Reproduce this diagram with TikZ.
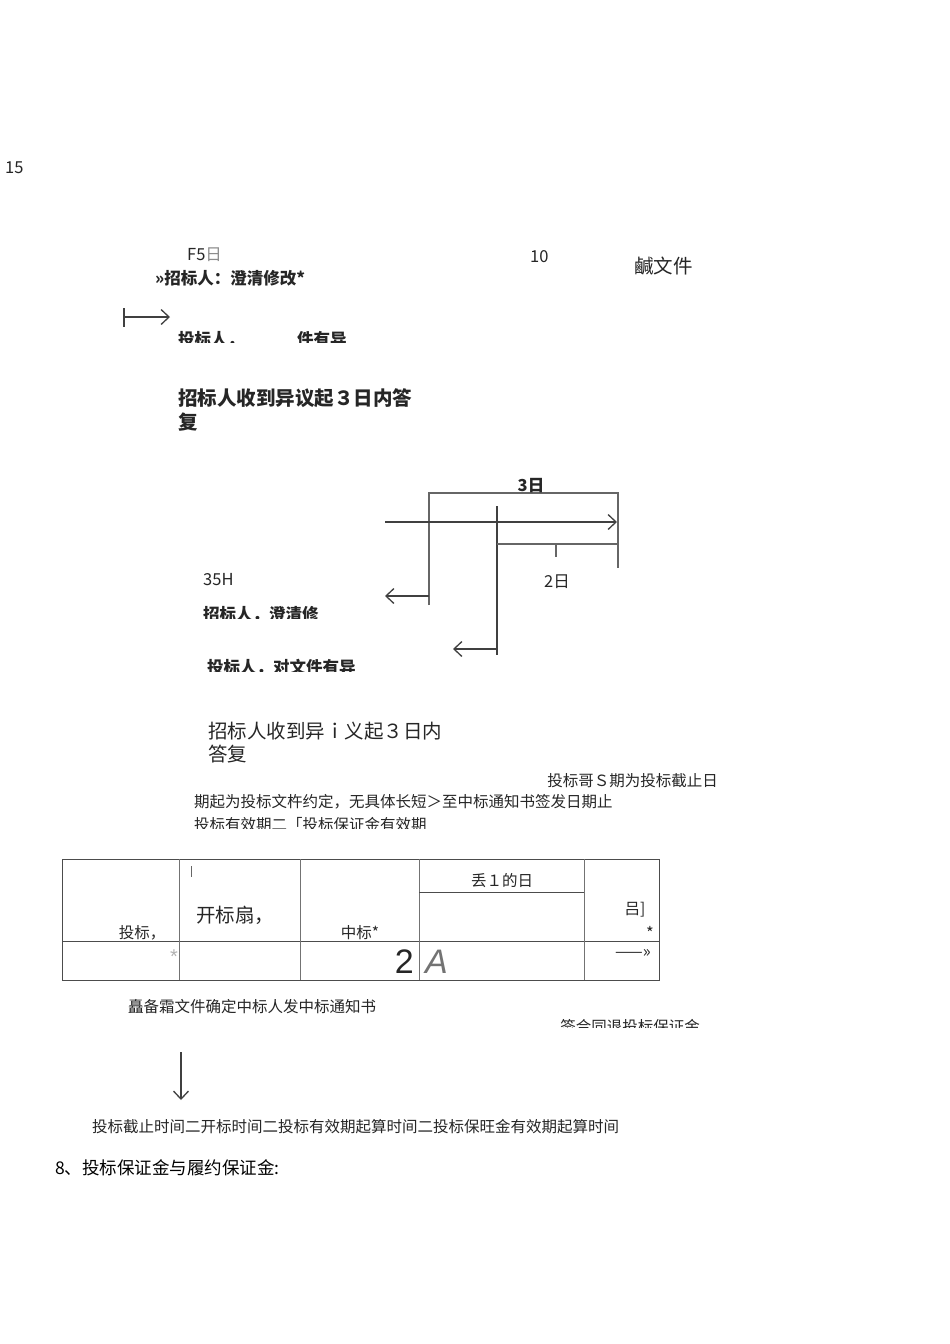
\documentclass[tikz,border=0pt]{standalone}
\usepackage{fontspec}
\setmainfont{Liberation Sans}
\newfontfamily\cjk{Noto Sans CJK SC}
\usetikzlibrary{arrows.meta}
\begin{document}
\begin{tikzpicture}[x=1pt,y=-1pt,
  txt/.style={inner sep=0pt,font=\cjk\fontsize{16.5}{19}\selectfont,text=black!85},
  sm/.style={inner sep=0pt,font=\cjk\fontsize{15.5}{18}\selectfont,text=black!85},
  bsm/.style={inner sep=0pt,font=\cjk\bfseries\fontsize{16.5}{19}\selectfont,text=black!85},
  big/.style={inner sep=0pt,font=\cjk\fontsize{19.5}{23}\selectfont,text=black!85},
  ln/.style={draw=black!75,line width=1.3pt},
  arr/.style={ln,-{Straight Barb[length=8pt,width=15pt]}}]
\useasboundingbox[fill=white] (0,0) rectangle (950,1344);
\node[txt,anchor=west] (n15) at (5,168) {15};
\node[txt,anchor=west] (f5) at (187,255) {F5{\color{black!45}日}};
\node[bsm,anchor=west] (zb1) at (155,278) {»招标人：澄清修改*};
\node[txt,anchor=west] (n10) at (530,257) {10};
\node[big,anchor=west] (wj) at (634,266) {鹹文件};
\coordinate (a0) at (124,317); \coordinate (a1) at (170,317);
\draw[ln] (124,308) -- (124,327);
\draw[arr] (a0) -- (a1);
\begin{scope}\clip (100,320) rectangle (500,342);
\node[bsm,anchor=west] (tb1) at (178,339) {投标人．\hspace{3.2em}件有异};
\end{scope}
\node[big,anchor=west,font=\cjk\bfseries\fontsize{19.5}{23}\selectfont] (sd1) at (178,398) {招标人收到异议起３日内答};
\node[big,anchor=west,font=\cjk\bfseries\fontsize{19.5}{23}\selectfont] (sd1b) at (178,422) {复};
% bracket diagram
\coordinate (b1) at (429,493); \coordinate (b2) at (618,493);
\draw[draw=black!60,line width=1.1pt] (429,605) -- (b1) -- (b2) -- (618,568);
\node[bsm] (d3) at (531,486) {3日};
\coordinate (h0) at (385,522); \coordinate (h1) at (617,522);
\draw[arr] (h0) -- (h1);
\draw[ln] (497,506) -- (497,655);
\draw[draw=black!60,line width=1.1pt] (497,544) -- (618,544);
\draw[draw=black!60,line width=1.1pt] (556,544) -- (556,557);
\begin{scope}\clip (530,570) rectangle (600,590);
\node[txt] (d2) at (557,582) {2日};
\end{scope}
\coordinate (l0) at (429,596); \coordinate (l1) at (385,596);
\draw[arr] (l0) -- (l1);
\coordinate (m0) at (497,649); \coordinate (m1) at (453,649);
\draw[arr] (m0) -- (m1);
\node[txt,anchor=west] (h35) at (203,580) {35H};
\begin{scope}\clip (150,602) rectangle (500,618);
\node[bsm,anchor=west] (zb2) at (203,614) {招标人．澄清修};
\end{scope}
\begin{scope}\clip (150,655) rectangle (500,671);
\node[bsm,anchor=west] (tb2) at (207,667) {投标人．对文件有异};
\end{scope}
\node[big,anchor=west] (sd2) at (208,731) {招标人收到异ｉ义起３日内};
\node[big,anchor=west] (sd2b) at (208,754) {答复};
\node[sm,anchor=east] (tq) at (718,781) {投标哥Ｓ期为投标截止日};
\node[sm,anchor=west] (qq) at (194,802) {期起为投标文杵约定，无具体长短＞至中标通知书签发日期止};
\begin{scope}\clip (150,814) rectangle (700,828);
\node[sm,anchor=west] (yx) at (194,825) {投标有效期二「投标保证金有效期};
\end{scope}
% table
\draw[draw=black!70,line width=1pt] (62,859) rectangle (659,980);
\draw[draw=black!70,line width=1pt] (62,941) -- (659,941);
\foreach \x in {179,300,419,584} \draw[draw=black!55,line width=1pt] (\x,859) -- (\x,980);
\draw[draw=black!70,line width=1pt] (419,892) -- (584,892);
\draw[draw=black!60,line width=.6pt] (191,866) -- (191,877);
\node[sm] (t1) at (142,933) {投标，};
\node[big] (t2) at (235,915) {开标扇，};
\node[sm] (t3) at (360,933) {中标*};
\node[sm] (t4) at (502,881) {丢１的日};
\node[sm] (t5) at (635,910) {吕]};
\node[txt] (t6) at (650,933) {*};
\node[txt,text=black!30,font=\fontsize{20}{22}\selectfont] (t7) at (174,957) {*};
\node[txt,anchor=east,font=\fontsize{34}{36}\selectfont] (t8) at (414,962) {2};
\node[txt,anchor=west,text=black!55,font=\itshape\fontsize{34}{36}\selectfont] (t9) at (425,962) {A};
\node[txt] (t10) at (633,953) {——»};
\node[sm,anchor=west] (bb) at (128,1007) {矗备霜文件确定中标人发中标通知书};
\begin{scope}\clip (540,1015) rectangle (720,1027);
\node[sm] (qh) at (630,1027) {签合同退投标保证金};
\end{scope}
\coordinate (v0) at (181,1052); \coordinate (v1) at (181,1100);
\draw[arr] (v0) -- (v1);
\node[sm,anchor=west] (js) at (92,1127) {投标截止时间二开标时间二投标有效期起算时间二投标保旺金有效期起算时间};
\node[txt,anchor=west,font=\cjk\fontsize{17.5}{20}\selectfont,text=black] (s8) at (55,1168) {8、投标保证金与履约保证金:};
\end{tikzpicture}
\end{document}
